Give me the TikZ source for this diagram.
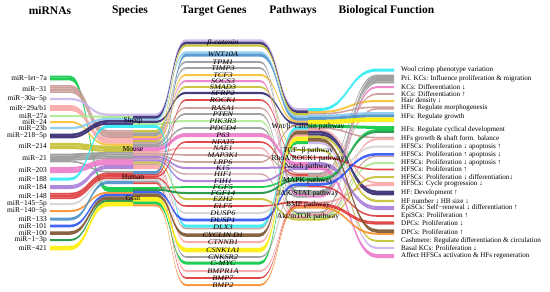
\documentclass[tikz,border=0pt]{standalone}
\usepackage{fontspec}
\setmainfont{Liberation Serif}
\newfontfamily\genefont[FakeStretch=1.18]{Liberation Serif}
\definecolor{cLet}{RGB}{0,200,60}
\definecolor{cA}{RGB}{200,150,145}
\definecolor{cB}{RGB}{200,180,235}
\definecolor{cC}{RGB}{250,165,165}
\definecolor{cD}{RGB}{170,235,140}
\definecolor{cE}{RGB}{250,190,40}
\definecolor{cF}{RGB}{130,200,240}
\definecolor{cG}{RGB}{45,35,110}
\definecolor{cH}{RGB}{195,190,40}
\definecolor{cI}{RGB}{150,150,150}
\definecolor{cJ}{RGB}{235,120,200}
\definecolor{cK}{RGB}{40,235,245}
\definecolor{cL}{RGB}{165,120,215}
\definecolor{cM}{RGB}{220,50,50}
\definecolor{cN}{RGB}{210,210,210}
\definecolor{cO}{RGB}{250,140,40}
\definecolor{cP}{RGB}{70,140,200}
\definecolor{cQ}{RGB}{40,80,245}
\definecolor{cR}{RGB}{120,80,40}
\definecolor{cS}{RGB}{20,140,60}
\definecolor{cT}{RGB}{255,240,0}
% ribbon: color, width, xa, xb, ya, xc, xd, yb
\newcommand\rib[8]{%
 \fill[#1,fill opacity=0.88] (#3,{#5-#2/2}) -- (#4,{#5-#2/2}) .. controls ({(#4+#6)/2},{#5-#2/2}) and ({(#4+#6)/2},{#8-#2/2}) .. (#6,{#8-#2/2}) -- (#7,{#8-#2/2}) -- (#7,{#8+#2/2}) -- (#6,{#8+#2/2}) .. controls ({(#4+#6)/2},{#8+#2/2}) and ({(#4+#6)/2},{#5+#2/2}) .. (#4,{#5+#2/2}) -- (#3,{#5+#2/2}) -- cycle;}
% flow: color, width, ymir, yspecL, yspecR, ygene, ypathL, ypathR, yfun
\newcommand\flw[9]{%
 \rib{#1}{#2}{50}{70}{#3}{108}{133}{#4}%
 \rib{#1}{#2}{133}{156}{#5}{186}{260}{#6}%
 \rib{#1}{#2}{260}{260}{#6}{297}{308}{#7}%
 \rib{#1}{#2}{308}{320}{#8}{377}{394}{#9}}
\begin{document}
\begin{tikzpicture}[x=1pt,y=-1pt,
 ttl/.style={inner sep=0pt,font=\fontsize{11.5}{13}\selectfont\bfseries},
 mir/.style={anchor=east,inner sep=0pt,font=\fontsize{7.4}{8}\selectfont},
 gen/.style={inner sep=0pt,font=\genefont\fontsize{7}{7}\selectfont\itshape},
 spc/.style={inner sep=0pt,font=\fontsize{7.6}{8}\selectfont},
 pth/.style={inner sep=0pt,font=\fontsize{7.6}{8}\selectfont},
 fun/.style={anchor=west,inner sep=0pt,font=\fontsize{7.1}{8}\selectfont}]
\useasboundingbox (0,0) rectangle (550,292);
\fill[white] (0,0) rectangle (550,292);
% flows
\flw{cLet}{3}{78.9}{190.3}{202.9}{263}{142.5}{125.8}{127.6}
\flw{cLet}{1.8}{76.5}{187.9}{187.9}{187}{178.3}{178.3}{130.0}
\flw{cA}{1.6}{85.9}{130.8}{142.6}{108}{173.4}{175.0}{94}
\flw{cA}{1.6}{87.5}{132.4}{153.6}{155}{176.6}{176.6}{108.8}
\flw{cA}{1.6}{89.1}{134.0}{155.2}{162}{125.6}{128.1}{137.6}
\flw{cA}{1.6}{92.1}{137.0}{164.2}{228.5}{130.2}{113.8}{107.2}
\flw{cA}{1.4}{90.6}{135.5}{158.7}{174}{217.8}{215.8}{156.3}
\flw{cB}{2.4}{99}{114.7}{114.7}{40.5}{109.2}{142.8}{248}
\flw{cC}{2}{107.9}{140.6}{166.0}{242}{135.5}{129.9}{183}
\flw{cC}{2}{109.9}{142.6}{168.0}{271}{204.0}{202.4}{185}
\flw{cC}{1.8}{106.0}{138.7}{151.9}{148}{216.2}{214.2}{139.3}
\flw{cD}{2}{116}{116.9}{123.9}{121}{214.3}{217.5}{163}
\flw{cE}{2}{122}{144.6}{137.0}{75}{121.6}{112}{101}
\flw{cF}{2.2}{128}{119.0}{119.6}{52.5}{116.5}{115.7}{113.25}
\flw{cG}{2.6}{134.9}{121.4}{117.2}{43.0}{111.7}{132.2}{191.9}
\flw{cG}{2.2}{137.3}{123.8}{121.8}{93}{123.7}{134.6}{194.3}
\flw{cH}{2.4}{144.1}{146.8}{131.2}{45.5}{114.2}{136.9}{201}
\flw{cH}{2}{148.1}{150.8}{162.4}{199}{219.5}{219.5}{177}
\flw{cH}{1.8}{146.2}{148.9}{140.9}{87}{150}{150}{241}
\flw{cI}{1.8}{154.5}{152.7}{133.3}{62}{191.2}{191.2}{77.1}
\flw{cI}{1.8}{156.3}{154.5}{135.1}{68}{193.0}{193.0}{78.9}
\flw{cI}{1.8}{158.1}{156.3}{144.3}{114}{212.4}{212.4}{82.5}
\flw{cI}{1.8}{159.9}{158.1}{146.1}{128}{196.8}{194.8}{80.7}
\flw{cI}{1.6}{161.6}{171.8}{181.6}{257}{186.6}{173.4}{75.4}
\flw{cJ}{2}{168}{160.0}{139.0}{81}{194.9}{196.7}{87}
\flw{cJ}{4}{171}{163.0}{149.0}{135}{164}{168}{256}
\flw{cK}{3}{179}{126.4}{126.4}{226.2}{127.9}{109.5}{70}
\flw{cL}{2}{186}{166.0}{157.0}{168}{167}{163}{207}
\flw{cL}{2}{188}{168.0}{160.4}{181}{169}{165}{209}
\flw{cM}{1.6}{193.6}{173.4}{174.8}{100}{157.5}{157.5}{169.5}
\flw{cM}{1.6}{195.2}{175.0}{176.4}{142}{175.0}{186.6}{216}
\flw{cM}{1.6}{196.8}{176.6}{178.0}{206}{202.2}{204.2}{222.2}
\flw{cM}{1.6}{198.4}{178.2}{183.2}{278}{205.8}{205.8}{223.8}
\flw{cN}{2}{204}{180.0}{179.8}{213}{182.2}{182.2}{146.5}
\flw{cO}{2}{211}{192.8}{205.4}{285}{207.6}{207.6}{233.75}
\flw{cP}{3}{219}{182.5}{172.5}{55.1}{119.1}{118.3}{115.85}
\flw{cQ}{2.6}{226}{195.1}{192.1}{220}{184.5}{184.5}{154.3}
\flw{cR}{3.5}{233}{198.15}{195.15}{235}{132.75}{139.85}{231.0}
\flw{cS}{2}{240}{200.9}{189.8}{193}{180.2}{180.2}{131.9}
\flw{cT}{4.5}{248}{204.15}{199.15}{250}{138.75}{122.05}{119.6}
% titles
\node[ttl] (t1) at (50,11) {miRNAs};
\node[ttl] (t2) at (130,11) {Species};
\node[ttl] (t3) at (214,11) {Target Genes};
\node[ttl] (t4) at (293,11) {Pathways};
\node[ttl] (t5) at (386.5,11) {Biological Function};
% miRNAs
\node[mir] (m1) at (47,78) {miR−let−7a};
\node[mir] (m2) at (47,89) {miR−31};
\node[mir] (m3) at (47,99) {miR−30a−5p};
\node[mir] (m4) at (47,108) {miR−29a/b1};
\node[mir] (m5) at (47,116) {miR−27a};
\node[mir] (m6) at (47,122) {miR−24};
\node[mir] (m7) at (47,128) {miR−23b};
\node[mir] (m8) at (47,136) {miR−218−5p};
\node[mir] (m9) at (47,146) {miR−214};
\node[mir] (m10) at (47,158) {miR−21};
\node[mir] (m11) at (47,170) {miR−203};
\node[mir] (m12) at (47,179) {miR−188};
\node[mir] (m13) at (47,187) {miR−184};
\node[mir] (m14) at (47,196) {miR−148};
\node[mir] (m15) at (47,204) {miR−145−5p};
\node[mir] (m16) at (47,211) {miR−140−5p};
\node[mir] (m17) at (47,219) {miR−133};
\node[mir] (m18) at (47,226) {miR−101};
\node[mir] (m19) at (47,233) {miR−100};
\node[mir] (m20) at (47,240) {miR−1−3p};
\node[mir] (m21) at (47,248) {miR−421};
% species
\node[spc] (s1) at (133,121) {Sheep};
\node[spc] (s2) at (133,149) {Mouse};
\node[spc] (s3) at (133,177.5) {Human};
\node[spc] (s4) at (133,197.7) {Goat};
% genes
\node[gen] (g1) at (223,43) {β-catenin};
\node[gen] (g2) at (223,54) {WNT10A};
\node[gen] (g3) at (223,62) {TPM1};
\node[gen] (g4) at (223,68) {TIMP3};
\node[gen] (g5) at (223,75) {TCF3};
\node[gen] (g6) at (223,81) {SOCS3};
\node[gen] (g7) at (223,87) {SMAD3};
\node[gen] (g8) at (223,93) {SFRP2};
\node[gen] (g9) at (223,100) {ROCK1};
\node[gen] (g10) at (223,108) {RASA1};
\node[gen] (g11) at (223,114) {PTEN};
\node[gen] (g12) at (223,121) {PIK3R3};
\node[gen] (g13) at (223,128) {PDCD4};
\node[gen] (g14) at (223,135) {P63};
\node[gen] (g15) at (223,142) {NFAT5};
\node[gen] (g16) at (223,148) {NAE1};
\node[gen] (g17) at (223,155) {MAP3K1};
\node[gen] (g18) at (223,162) {LRP6};
\node[gen] (g19) at (223,168) {K15};
\node[gen] (g20) at (223,174) {HIF1};
\node[gen] (g21) at (223,181) {FIH1};
\node[gen] (g22) at (223,187) {FGF5};
\node[gen] (g23) at (223,193) {FGF14};
\node[gen] (g24) at (223,199) {EZH2};
\node[gen] (g25) at (223,206) {ELF5};
\node[gen] (g26) at (223,213) {DUSP6};
\node[gen] (g27) at (223,220) {DUSP1};
\node[gen] (g28) at (223,227) {DLX3};
\node[gen] (g29) at (223,235) {CYCLIN D1};
\node[gen] (g30) at (223,242) {CTNNB1};
\node[gen] (g31) at (223,250) {CSNK1A1};
\node[gen] (g32) at (223,257) {CNKSR2};
\node[gen] (g33) at (223,263) {C-MYC};
\node[gen] (g34) at (223,271) {BMPR1A};
\node[gen] (g35) at (223,278) {BMP7};
\node[gen] (g36) at (223,285) {BMP2};
% pathways
\node[pth] (p1) at (308,127) {Wnt/β−catenin pathway};
\node[pth] (p2) at (308,151) {TGF−β pathway};
\node[pth] (p3) at (308,158.5) {RhoA/ROCK1 pathway};
\node[pth] (p4) at (308,167) {Notch pathway};
\node[pth] (p5) at (308,181) {MAPK pathway};
\node[pth] (p6) at (308,194) {JAK/STAT pathway};
\node[pth] (p7) at (308,205) {BMP pathway};
\node[pth] (p8) at (308,217) {Akt/mTOR pathway};
% functions
\node[fun] (f1) at (401,70) {Wool crimp phenotype variation};
\node[fun] (f2) at (401,79) {Pri. KCs: Influence proliferation \& migration};
\node[fun] (f3) at (401,87) {KCs: Differentiation ↓};
\node[fun] (f4) at (401,94) {KCs: Differentiation ↑};
\node[fun] (f5) at (401,101) {Hair density ↓};
\node[fun] (f6) at (401,108) {HFs: Regulate morphogenesis};
\node[fun] (f7) at (401,117) {HFs: Regulate growth};
\node[fun] (f8) at (401,129.5) {HFs: Regulate cyclical development};
\node[fun] (f9) at (401,138.5) {HFs growth \& shaft form. balance};
\node[fun] (f10) at (401,146.5) {HFSCs: Proliferation ↓ apoptosis ↑};
\node[fun] (f11) at (401,155) {HFSCs: Proliferation ↑ apoptosis ↓};
\node[fun] (f12) at (401,163) {HFSCs: Proliferation ↓ apoptosis ↑};
\node[fun] (f13) at (401,169.5) {HFSCs: Proliferation ↑};
\node[fun] (f14) at (401,177) {HFSCs: Proliferation ↓ differentiation↓};
\node[fun] (f15) at (401,184) {HFSCs: Cycle progression ↓};
\node[fun] (f16) at (401,193) {HF: Development ↑};
\node[fun] (f17) at (401,201) {HF number ↓ HB size ↓};
\node[fun] (f18) at (401,208) {EpiSCs: Self−renewal ↓ differentiation ↑};
\node[fun] (f19) at (401,216) {EpiSCs: Proliferation ↑};
\node[fun] (f20) at (401,223) {DPCs: Proliferation ↓};
\node[fun] (f21) at (401,232) {DPCs: Proliferation ↑};
\node[fun] (f22) at (401,241) {Cashmere: Regulate differentiation \& circulation};
\node[fun] (f23) at (401,248) {Basal KCs: Proliferation ↓};
\node[fun] (f24) at (401,256) {Affect HFSCs activation \& HFs regeneration};
\end{tikzpicture}
\end{document}
